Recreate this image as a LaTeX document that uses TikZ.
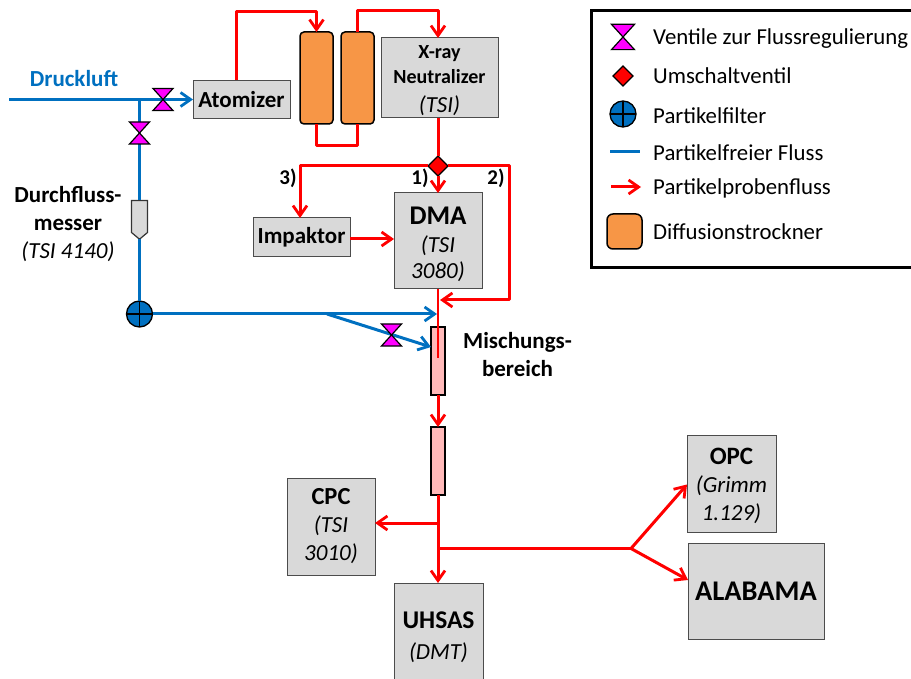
\documentclass[tikz,border=0pt]{standalone}
\usepackage{fontspec}
\setmainfont{Carlito}
\usetikzlibrary{positioning,arrows.meta,shapes.geometric,shapes.symbols}

\definecolor{freeblue}{HTML}{0070C0}
\definecolor{samplered}{HTML}{FF0000}
\definecolor{valvemagenta}{HTML}{FF00FF}
\definecolor{dryerorange}{HTML}{F79646}
\definecolor{boxgray}{HTML}{D9D9D9}
\definecolor{mixpink}{HTML}{FFB9B9}

\newcommand{\labelfont}{\fontsize{23}{28}\selectfont}
\newcommand{\titlefont}{\fontsize{27}{30}\selectfont}
\newcommand{\namefont}{\fontsize{25}{28}\selectfont}
\newcommand{\smallfont}{\fontsize{20}{24}\selectfont}

\tikzset{
  flowarrow/.style={-{Straight Barb[length=10pt,width=14pt,line width=2.8pt]}},
  freeflow/.style={draw=freeblue,line width=3pt,line join=round},
  sampleflow/.style={draw=samplered,line width=3pt,line join=round},
  devicebox/.style={draw=black!70,fill=boxgray,line width=1pt,inner sep=0pt,outer sep=0pt,align=center,font=\labelfont},
  dryer/.style={draw=black,fill=dryerorange,line width=1.5pt,rounded corners=4pt,minimum width=33pt,minimum height=92pt,inner sep=0pt,outer sep=0pt},
  mixtube/.style={draw=black,fill=mixpink,line width=1.5pt,minimum width=14pt,minimum height=68pt,inner sep=0pt,outer sep=0pt},
  switchvalve/.style={diamond,draw=black,fill=samplered,line width=1.2pt,minimum width=20pt,minimum height=20pt,inner sep=0pt,outer sep=0pt},
  particlefilter/.style={circle,draw=black,fill=freeblue,line width=1.3pt,minimum size=26pt,inner sep=0pt,outer sep=0pt,
    path picture={\draw[line width=1.1pt] (path picture bounding box.north) -- (path picture bounding box.south)
      (path picture bounding box.west) -- (path picture bounding box.east);}},
  flowmeter/.style={signal,signal to=south,signal from=nowhere,signal pointer angle=100,draw=black!80,fill=boxgray,
    line width=1.2pt,minimum width=16pt,minimum height=32pt,inner sep=0pt,outer sep=0pt},
  valvespot/.style={inner sep=0pt,minimum width=20pt,minimum height=22pt},
  flowvalve/.pic={\draw[fill=valvemagenta,line width=1.2pt,line join=miter] (-10,-11) -- (10,-11) -- (-10,11) -- (10,11) -- cycle;},
  legendtext/.style={anchor=base west,inner sep=0pt,font=\fontsize{22.8}{24}\selectfont},
  notetext/.style={font=\bfseries\labelfont,inner sep=0pt,align=center},
  pathnote/.style={inner sep=0pt,font=\bfseries\fontsize{21}{24}\selectfont},
}

\begin{document}
\begin{tikzpicture}[x=1pt,y=-1pt]
  \useasboundingbox (0,0) rectangle (911,679);

  % devices of the upper row
  \node[devicebox,minimum width=97pt,minimum height=38pt] (atomizer) at (241.5,99.5) {\bfseries Atomizer};
  \node[dryer,right=10pt of atomizer,yshift=21.5pt] (dryerA) {};
  \node[dryer,right=8pt of dryerA] (dryerB) {};
  \node[devicebox,minimum width=117pt,minimum height=80pt,right=7pt of dryerB] (xray)
    {\rule{0pt}{19pt}\bfseries\smallfont X-ray\\[-3pt]\bfseries\smallfont Neutralizer\\[1pt]\itshape (TSI)};

  % switching valve and what follows it
  \node[switchvalve,below=38pt of xray,xshift=-1.5pt] (switch) {};
  \node[devicebox,minimum width=88pt,minimum height=96pt,below=17pt of switch] (dma)
    {\rule{0pt}{24pt}\bfseries\titlefont DMA\\\itshape (TSI\\[-2pt]\itshape 3080)};
  \node[devicebox,minimum width=97pt,minimum height=39pt,left=44pt of dma,yshift=3.5pt] (impaktor) {\bfseries Impaktor};

  % mixing section
  \node[mixtube,below=38pt of dma] (mixA) {};
  \node[mixtube,below=32pt of mixA] (mixB) {};
  \node[notetext,right=18pt of mixA,yshift=6pt] (mixlabel) {Mischungs-\\bereich};

  % instruments at the end of the line
  \node[devicebox,minimum width=88pt,minimum height=97pt] (cpc) at (331,526.5)
    {\bfseries\fontsize{24.5}{28}\selectfont CPC\\\itshape (TSI\\\itshape 3010)};
  \node[devicebox,minimum width=89pt,minimum height=96pt] (uhsas) at (438.5,631)
    {\rule{0pt}{30pt}\bfseries\fontsize{25.5}{28}\selectfont UHSAS\\[3pt]\itshape (DMT)};
  \node[devicebox,minimum width=89pt,minimum height=97pt] (opc) at (731.5,483.5)
    {\rule{0pt}{22pt}\bfseries\namefont OPC\\\itshape (Grimm\\\itshape 1.129)};
  \node[devicebox,minimum width=136pt,minimum height=96pt] (alabama) at (756,591)
    {\bfseries\fontsize{28.5}{30}\selectfont ALABAMA};

  % particle free side
  \node[particlefilter] (filter) at (139.5,314) {};
  \node[flowmeter] (meter) at (139.5,216.5) {};
  \node[valvespot] (valveinlet) at (163,99.5) {};
  \node[valvespot] (valvemeter) at (139.5,133) {};
  \node[valvespot] (valvemix) at (391.5,335) {};
  \coordinate (inlet) at (9,99.5);
  \coordinate (tee) at (139.5,99.5);
  \coordinate (branch) at (327,314);
  \coordinate (mixin) at ([yshift=14pt]mixA.west);
  \coordinate (mixtop) at (437,314);

  % free flow lines
  \draw[freeflow,flowarrow] (inlet) -- (atomizer.west);
  \draw[freeflow] (tee) -- (valvemeter) -- (meter) -- (filter);
  \draw[freeflow,flowarrow] (filter) -- (mixtop);
  \draw[freeflow,flowarrow] (branch) -- (mixin);
  \node[notetext,text=freeblue,above=13pt of inlet,xshift=65pt] (druckluft) {Druckluft};

  % sample lines
  \coordinate (bendA) at (236,12);
  \coordinate (fork) at (631,548.5);
  \coordinate (dmaout) at (438,358);
  \coordinate (cpctap) at (438,523);
  \coordinate (opctap) at (438,548.5);
  \draw[sampleflow,flowarrow] ([xshift=-5.5pt]atomizer.north) -- (bendA) -| (dryerA.north);
  \draw[sampleflow] (dryerA.south) -- ++(0,22) -| (dryerB.south);
  \draw[sampleflow,flowarrow] (dryerB.north) -- ++(0,-21) -| ([xshift=-1.5pt]xray.north);
  \draw[sampleflow] ([xshift=-1.5pt]xray.south) -- (switch.north);
  \draw[sampleflow,flowarrow] (switch.south) -- (dma.north);
  \draw[sampleflow,flowarrow] (switch.west) -| ([xshift=-1.5pt]impaktor.north);
  \draw[sampleflow,flowarrow] (switch.east) -- (509,166) |- (440,300);
  \draw[sampleflow,flowarrow] ([yshift=-1.5pt]impaktor.east) -- ([yshift=-1.5pt]impaktor.east -| dma.west);
  \draw[sampleflow,flowarrow] (mixA.south) -- (mixB.north);
  \draw[sampleflow,flowarrow] (mixB.south) -- (uhsas.north -| mixB.south);
  \draw[sampleflow,flowarrow] (cpctap) -- (cpctap -| cpc.east);
  \draw[sampleflow] (opctap) -- (fork);
  \draw[sampleflow,flowarrow] (fork) -- ([yshift=-1pt]opc.west);
  \draw[sampleflow,flowarrow] (fork) -- ([yshift=11pt]alabama.west);
  \draw[draw=samplered,line width=2pt] (dma.south) -- (dmaout);

  % valves on top of the lines
  \pic at (valveinlet) {flowvalve};
  \pic at (valvemeter) {flowvalve};
  \pic at (valvemix) {flowvalve};

  % numbered paths
  \node[pathnote] (pathC) at (288,178) {3)};
  \node[pathnote] (pathA) at (420,178) {1)};
  \node[pathnote] (pathB) at (496,178) {2)};

  % side label of the flow meter
  \node[inner sep=0pt,align=center,font=\labelfont] (meterlabel) at (68,224)
    {\bfseries Durchfluss-\\\bfseries messer\\\itshape (TSI 4140)};

  % legend
  \node[draw=black,line width=3pt,minimum width=325pt,minimum height=257pt,inner sep=0pt] (legend) at (753.5,139.5) {};
  \node[valvespot] (legvalve) at (623,37) {};
  \pic[scale=1.15] at (legvalve) {flowvalve};
  \node[switchvalve] (legswitch) at (623,76) {};
  \node[particlefilter] (legfilter) at (623,114) {};
  \coordinate (legfreeA) at (610,152);
  \coordinate (legfreeB) at (640,152);
  \coordinate (legsampleA) at (611,187);
  \coordinate (legsampleB) at (641,187);
  \draw[freeflow] (legfreeA) -- (legfreeB);
  \draw[sampleflow,flowarrow] (legsampleA) -- (legsampleB);
  \node[dryer,minimum width=35pt,minimum height=35pt,rounded corners=6pt] (legdryer) at (624.5,231.5) {};
  \node[legendtext] (textvalve) at (653,45) {Ventile zur Flussregulierung};
  \node[legendtext] (textswitch) at (653,84) {Umschaltventil};
  \node[legendtext] (textfilter) at (653,123.5) {Partikelfilter};
  \node[legendtext] (textfree) at (653,161) {Partikelfreier Fluss};
  \node[legendtext] (textsample) at (653,195) {Partikelprobenfluss};
  \node[legendtext] (textdryer) at (653,240) {Diffusionstrockner};
\end{tikzpicture}
\end{document}
